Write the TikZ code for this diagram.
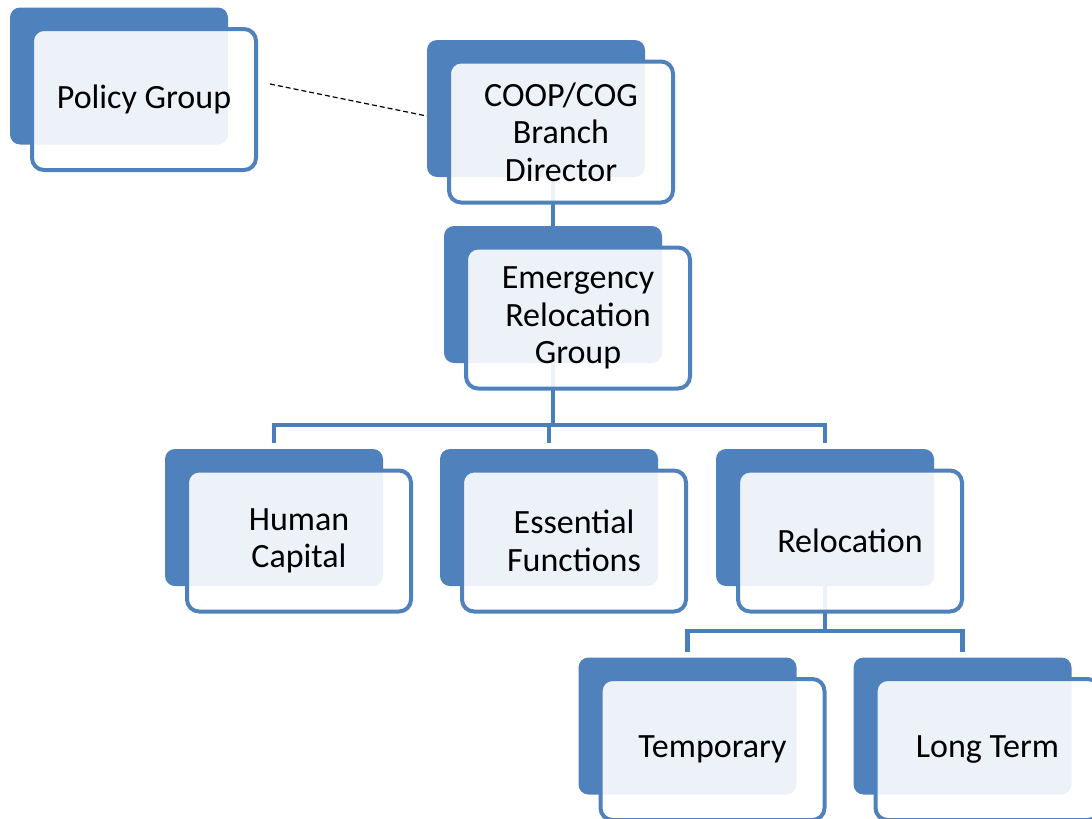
\documentclass[tikz,border=0pt]{standalone}
\usepackage{fontspec}
\setmainfont{Carlito}
\usepackage{tikz}
\usetikzlibrary{backgrounds}
\definecolor{orgblue}{HTML}{4F81BD}
\definecolor{orgline}{HTML}{4A7EBB}

\tikzset{
	backbox/.style={
		fill=orgblue,
		rounded corners=10pt,
		minimum width=218pt,
		minimum height=137pt,
		inner sep=0pt
	},
	frontbox/.style={
		draw=orgblue,
		line width=4pt,
		fill=white,
		fill opacity=0.9,
		text opacity=1,
		rounded corners=12pt,
		minimum width=224pt,
		minimum height=141pt,
		inner sep=0pt,
		align=center,
		xshift=25pt,
		yshift=-23.5pt,
		font=\fontsize{34}{37.5}\selectfont
	},
	orgline/.style={
		draw=orgline,
		line width=4.5pt
	}
}

\begin{document}
\begin{tikzpicture}[x=1pt, y=-1pt]
	\useasboundingbox (0,0) rectangle (1092,819);

	% Policy group
	\node[backbox] (policyback) at (119,76) {};
	\node[frontbox] (policy) at (policyback) {Policy Group};

	% Branch director
	\node[backbox] (coopback) at (536,108.5) {};
	\node[frontbox] (coop) at (coopback) {COOP/COG\\Branch\\Director};

	% Relocation group
	\node[backbox] (emergback) at (553,294.5) {};
	\node[frontbox] (emerg) at (emergback) {Emergency\\Relocation\\Group};

	% Sections
	\node[backbox] (hcback) at (274,517.5) {};
	\node[frontbox] (hc) at (hcback) {Human\\Capital};
	\node[backbox] (efback) at (549,517.5) {};
	\node[frontbox] (ef) at (efback) {Essential\\Functions};
	\node[backbox] (relback) at (825,517.5) {};
	\node[frontbox] (rel) at (relback) {Relocation};

	% Relocation kinds
	\node[backbox] (tempback) at (687.5,726) {};
	\node[frontbox] (temp) at (tempback) {Temporary};
	\node[backbox] (longback) at (962.5,726) {};
	\node[frontbox] (long) at (longback) {Long Term};

	\coordinate (emergbus) at ([yshift=-62pt]emergback.south);
	\coordinate (relbus) at ([yshift=-45pt]relback.south);

	\begin{scope}[on background layer]
		\draw[orgline]
			(coopback.south -| emergback) -- (emergback.north);
		\draw[orgline]
			(emergback.south) -- (emergbus);
		\draw[orgline]
			([yshift=6pt]hcback.north) |- (emergbus) -| ([yshift=6pt]relback.north);
		\draw[orgline]
			([yshift=6pt]efback.north) -- (efback.north |- emergbus);
		\draw[orgline]
			(relback.south) -- (relbus);
		\draw[orgline]
			([yshift=5pt]tempback.north) |- (relbus) -| ([yshift=5pt]longback.north);
	\end{scope}

	\draw[
		line width=1.2pt,
		dash pattern=on 5pt off 3pt
	]
		([shift={(12,-15.5)}]policy.east) -- ([shift={(0,7.5)}]coopback.west);
\end{tikzpicture}
\end{document}
